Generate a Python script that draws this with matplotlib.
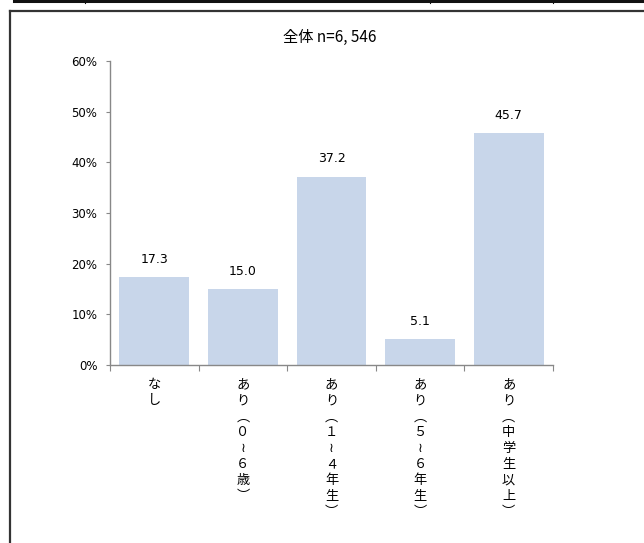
import matplotlib.pyplot as plt
from matplotlib.lines import Line2D

plt.rcParams['font.family'] = ['Noto Sans CJK JP', 'DejaVu Sans']

# データ
categories = ['なし', 'あり︵０≀６歳︶', 'あり︵１≀４年生︶', 'あり︵５≀６年生︶', 'あり︵中学生以上︶']
values = [17.3, 15.0, 37.2, 5.1, 45.7]
yticks = [0, 10, 20, 30, 40, 50, 60]
title = '全体 n=6, 546'

fig = plt.figure(figsize=(6.44, 5.43), dpi=100)

# 外枠（スクリーンショットの枠）
fig.add_artist(Line2D([14 / 644, 1], [1 - 1 / 543, 1 - 1 / 543], color='#111111', lw=2.2))
for xp in [85, 430, 553]:
    fig.add_artist(Line2D([xp / 644, xp / 644], [1 - 3 / 543, 1], color='#111111', lw=0.8))
fig.add_artist(Line2D([10 / 644, 1], [1 - 11 / 543, 1 - 11 / 543], color='#333333', lw=1.6))
fig.add_artist(Line2D([10 / 644, 10 / 644], [0, 1 - 11 / 543], color='#333333', lw=1.6))

ax = fig.add_axes([110 / 644, 178 / 543, 443 / 644, 304 / 543])
x = range(len(categories))
bars = ax.bar(x, values, width=0.79, color='#c8d6ea', edgecolor='none')

for b, v in zip(bars, values):
    ax.text(b.get_x() + b.get_width() / 2, v + 2.2, f'{v:.1f}', ha='center', va='bottom',
            fontsize=9, family=['Liberation Sans Narrow', 'DejaVu Sans'])

ax.set_xlim(-0.5, len(categories) - 0.5)
ax.set_ylim(0, 60)
ax.set_yticks(yticks)
ax.set_yticklabels([f'{t}%' for t in yticks], fontsize=8.5,
                   family=['Liberation Sans Narrow', 'DejaVu Sans'])

# x軸の目盛りはカテゴリの境界に
ax.set_xticks([i - 0.5 for i in range(len(categories) + 1)], minor=False)
ax.set_xticklabels([])
ax.tick_params(axis='x', length=4, color='#888888')
ax.tick_params(axis='y', length=3, color='#888888', pad=6)

for i, lab in enumerate(categories):
    ax.text(i, -2.6, '\n'.join(lab), ha='center', va='top', fontsize=9.5, linespacing=1.3)

for s in ['top', 'right']:
    ax.spines[s].set_visible(False)
for s in ['left', 'bottom']:
    ax.spines[s].set_color('#888888')
    ax.spines[s].set_linewidth(1.0)

fig.text(330 / 644, 1 - 37 / 543, title, ha='center', va='center', fontsize=11)

fig.savefig('out.png', dpi=100)
